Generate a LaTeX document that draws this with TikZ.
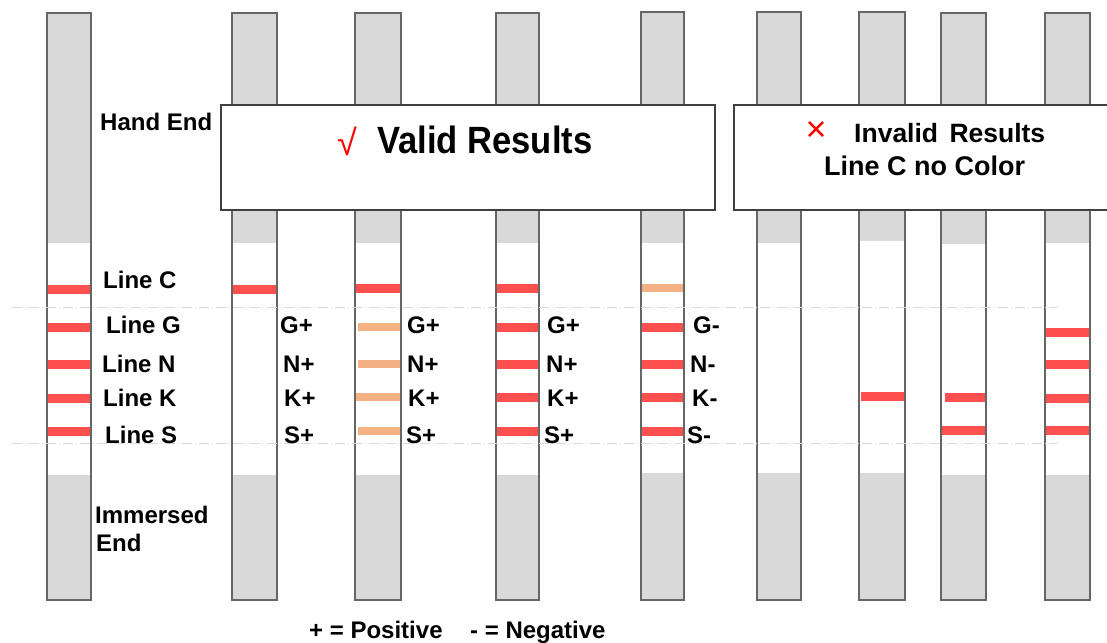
\documentclass[tikz,border=0pt]{standalone}
\usepackage{fontspec}
\setmainfont{Liberation Sans}
\definecolor{stripgray}{HTML}{D9D9D9}
\definecolor{edgegray}{HTML}{666666}
\definecolor{bandred}{HTML}{FF5050}
\definecolor{bandpale}{HTML}{F4B183}
\tikzset{
	stripedge/.style={draw=edgegray, line width=2pt},
	band/.style={draw=bandred, line width=9pt},
	paleband/.style={draw=bandpale, line width=8pt},
	guide/.style={draw=stripgray, line width=0.8pt, dash pattern=on 10pt off 3pt on 1pt off 3pt},
	resultbox/.style={draw=black!75, line width=1.2pt, fill=white},
	lbl/.style={anchor=base west, inner sep=0, font=\fontsize{24}{26}\selectfont\bfseries},
}
\begin{document}
\begin{tikzpicture}[x=1pt,y=-1pt]
		\useasboundingbox (0,0) rectangle (1107,642);
		% strips: left/right/top/end of upper gray/start of lower gray
		\foreach \xa/\xb/\ya/\yb/\yc in {47/91/13/243/475, 232/277/13/243/475, 355/401/13/243/475, 496/539/13/243/475, 641/684/12/243/473, 757/801/12/243/473, 859/905/12/241/473, 941/986/13/244/475, 1045/1090/13/243/475}{
			\fill[stripgray] (\xa,\ya) rectangle (\xb,\yb);
			\fill[stripgray] (\xa,\yc) rectangle (\xb,600);
		}
		% bands
		\draw [band] (48,289) -- (90,289);
		\draw [band] (48,327) -- (90,327);
		\draw [band] (48,364) -- (90,364);
		\draw [band] (48,398) -- (90,398);
		\draw [band] (48,431) -- (90,431);
		\draw [band] (233,289) -- (276,289);
		\draw [band] (356,288) -- (400,288);
		\draw [paleband] (358,327) -- (400,327);
		\draw [paleband] (358,364) -- (400,364);
		\draw [paleband] (356,397) -- (400,397);
		\draw [paleband] (358,431) -- (400,431);
		\draw [band] (497,288) -- (538,288);
		\draw [band] (497,327) -- (540,327);
		\draw [band] (497,364) -- (540,364);
		\draw [band] (497,397) -- (539,397);
		\draw [band] (497,431) -- (540,431);
		\draw [paleband] (642,288) -- (683,288);
		\draw [band] (642,327) -- (683,327);
		\draw [band] (642,364) -- (683,364);
		\draw [band] (642,397) -- (683,397);
		\draw [band] (642,431) -- (683,431);
		\draw [band] (861,396) -- (904,396);
		\draw [band] (945,397) -- (987,397);
		\draw [band] (942,430) -- (985,430);
		\draw [band] (1046,332) -- (1089,332);
		\draw [band] (1046,364) -- (1089,364);
		\draw [band] (1046,398) -- (1089,398);
		\draw [band] (1046,430) -- (1089,430);
		\foreach \xa/\xb/\ya in {47/91/13, 232/277/13, 355/401/13, 496/539/13, 641/684/12, 757/801/12, 859/905/12, 941/986/13, 1045/1090/13}{
			\draw [stripedge] (\xa,\ya) rectangle (\xb,600);
		}
		\draw [guide] (12,307) -- (1058,307);
		\draw [guide] (12,443) -- (1058,443);
		% result boxes
		\draw [resultbox] (221,105) rectangle (715,210);
		\draw [resultbox] (734,105) rectangle (1120,210);
		\node [text=red, inner sep=0, font=\fontsize{36}{38}\selectfont] (tick) at (347,141) {√};
		\node [anchor=base west, inner sep=0, xscale=0.91, font=\fontsize{38}{40}\selectfont\bfseries] (valid) at (377,153) {Valid Results};
		\node [text=red, inner sep=0, font=\fontsize{36}{38}\selectfont] (cross) at (816,131) {×};
		\node [anchor=base west, inner sep=0, font=\fontsize{26.5}{28}\selectfont\bfseries] (invalid) at (854,142) {Invalid\hspace{4pt} Results};
		\node [anchor=base west, inner sep=0, font=\fontsize{27}{29}\selectfont\bfseries] (nocolor) at (824,175) {Line C no Color};
		% strip labels
		\node [lbl] (hand) at (100,130) {Hand End};
		\node [lbl] (lineC) at (103,288) {Line C};
		\node [lbl] (lineG) at (106,333) {Line G};
		\node [lbl] (lineN) at (102,372) {Line N};
		\node [lbl] (lineK) at (103,406) {Line K};
		\node [lbl] (lineS) at (105,443) {Line S};
		\node [lbl] (immersed) at (95,523) {Immersed};
		\node [lbl] (immend) at (96,551) {End};
		\node [lbl] (Gb) at (280,333) {G+};
		\node [lbl] (Nb) at (283,372) {N+};
		\node [lbl] (Kb) at (284,406) {K+};
		\node [lbl] (Sb) at (284,443) {S+};
		\node [lbl] (Gc) at (407,333) {G+};
		\node [lbl] (Nc) at (407,372) {N+};
		\node [lbl] (Kc) at (408,406) {K+};
		\node [lbl] (Sc) at (406,443) {S+};
		\node [lbl] (Gd) at (547,333) {G+};
		\node [lbl] (Nd) at (546,372) {N+};
		\node [lbl] (Kd) at (547,406) {K+};
		\node [lbl] (Sd) at (544,443) {S+};
		\node [lbl] (Ge) at (693,333) {G-};
		\node [lbl] (Ne) at (690,372) {N-};
		\node [lbl] (Ke) at (692,406) {K-};
		\node [lbl] (Se) at (687,443) {S-};
		% legend
		\node [lbl] (pos) at (309,638) {+ = Positive};
		\node [lbl] (neg) at (470,638) {- = Negative};
	\end{tikzpicture}
\end{document}
